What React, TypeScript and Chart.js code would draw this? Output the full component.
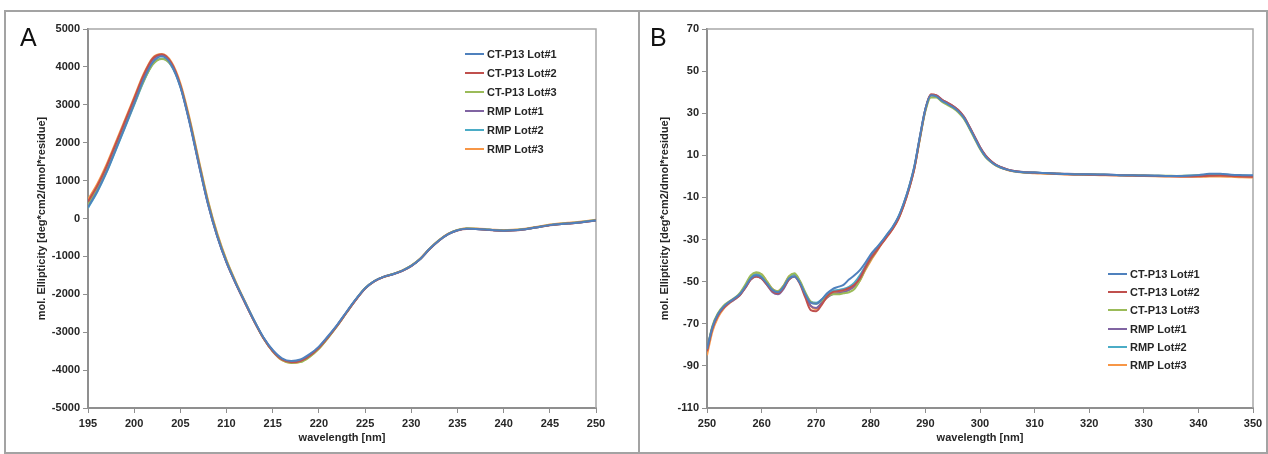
import { useEffect, useRef } from "react";
import { Chart, registerables } from "chart.js";

Chart.register(...registerables);

// ---- series metadata ----
const SERIES_NAMES = ["CT-P13 Lot#1", "CT-P13 Lot#2", "CT-P13 Lot#3", "RMP Lot#1", "RMP Lot#2", "RMP Lot#3"];
const SERIES_COLORS = ["#4F81BD", "#C0504D", "#9BBB59", "#8064A2", "#4BACC6", "#F79646"];

// ---- panel A: far-UV CD (195-250 nm) ----
const WAVELENGTH_A = [
  195, 196, 197, 198, 199, 200, 201, 202, 203, 204, 205, 206, 207, 208, 209, 210, 211, 212, 213,
  214, 215, 216, 217, 218, 219, 220, 221, 222, 223, 224, 225, 226, 227, 228, 229, 230, 231, 232,
  233, 234, 235, 236, 237, 238, 239, 240, 241, 242, 243, 244, 245, 246, 247, 248, 249, 250,
];
const A_CTP13_LOT1 = [
  300, 720, 1230, 1820, 2420, 3030, 3650, 4120, 4280, 4060, 3470, 2520, 1420, 370, -480, -1160, -1710,
  -2210, -2700, -3140, -3470, -3690, -3760, -3720, -3580, -3380, -3100, -2800, -2460, -2130, -1840,
  -1650, -1540, -1470, -1380, -1250, -1060, -800, -580, -410, -310, -270, -275, -290, -310, -320, -310,
  -290, -255, -215, -175, -150, -130, -110, -80, -50,
];
const A_CTP13_LOT2 = [
  450, 860, 1370, 1960, 2560, 3160, 3770, 4220, 4330, 4110, 3510, 2560, 1450, 390, -470, -1160, -1720,
  -2230, -2720, -3160, -3500, -3720, -3790, -3760, -3620, -3410, -3130, -2820, -2480, -2150, -1850,
  -1660, -1545, -1475, -1385, -1255, -1065, -805, -585, -415, -315, -275, -280, -295, -315, -325, -315,
  -295, -260, -220, -180, -155, -135, -115, -85, -55,
];
const A_CTP13_LOT3 = [
  360, 770, 1270, 1850, 2440, 3030, 3610, 4060, 4210, 4050, 3510, 2600, 1500, 440, -430, -1120, -1690,
  -2210, -2710, -3160, -3500, -3730, -3810, -3790, -3650, -3440, -3150, -2830, -2480, -2140, -1840,
  -1650, -1540, -1465, -1375, -1245, -1055, -795, -575, -405, -305, -265, -270, -285, -305, -315, -305,
  -285, -250, -210, -170, -145, -125, -105, -75, -45,
];
const A_RMP_LOT1 = [
  400, 820, 1330, 1920, 2520, 3120, 3730, 4190, 4320, 4100, 3500, 2550, 1440, 380, -475, -1160, -1715,
  -2220, -2710, -3150, -3490, -3710, -3780, -3745, -3600, -3395, -3115, -2810, -2470, -2140, -1845,
  -1655, -1540, -1470, -1380, -1250, -1060, -800, -580, -410, -310, -270, -275, -290, -310, -320, -310,
  -290, -255, -215, -175, -150, -130, -110, -80, -50,
];
const A_RMP_LOT2 = [
  280, 700, 1210, 1800, 2400, 3000, 3600, 4070, 4220, 4040, 3480, 2560, 1470, 410, -450, -1140, -1700,
  -2210, -2700, -3150, -3490, -3715, -3790, -3760, -3620, -3410, -3125, -2810, -2470, -2135, -1840,
  -1650, -1540, -1470, -1380, -1250, -1060, -800, -580, -410, -310, -270, -275, -290, -310, -320, -310,
  -290, -255, -215, -170, -145, -125, -105, -75, -45,
];
const A_RMP_LOT3 = [
  500, 910, 1420, 2010, 2600, 3200, 3800, 4240, 4340, 4140, 3570, 2640, 1540, 470, -400, -1100, -1670,
  -2190, -2700, -3160, -3510, -3740, -3810, -3780, -3640, -3430, -3140, -2830, -2480, -2140, -1840,
  -1650, -1540, -1465, -1375, -1245, -1050, -790, -570, -400, -300, -260, -265, -280, -300, -310, -300,
  -280, -245, -205, -160, -135, -115, -95, -65, -35,
];
const X_TICKS_A = [195, 200, 205, 210, 215, 220, 225, 230, 235, 240, 245, 250];
const Y_TICKS_A = [-5000, -4000, -3000, -2000, -1000, 0, 1000, 2000, 3000, 4000, 5000];

// ---- panel B: near-UV CD (250-350 nm) ----
const WAVELENGTH_B = [
  250, 251, 252, 253, 254, 255, 256, 257, 258, 259,
  260, 261, 262, 263, 264, 265, 266, 267, 268, 269,
  270, 271, 272, 273, 274, 275, 276, 277, 278, 279,
  280, 281, 282, 283, 284, 285, 286, 287, 288, 289,
  290, 291, 292, 293, 294, 295, 296, 297, 298, 299,
  300, 301, 302, 303, 304, 305, 306,
  308, 310, 312, 314, 316, 318, 320, 322, 324, 326, 328, 330, 332, 334, 336, 338, 340, 342, 344, 346, 348, 350,
];
const B_CTP13_LOT1 = [
  -82, -71.5, -65.5, -62, -59.8, -58, -56, -52.5, -48.5, -47,
  -48, -51, -54, -55, -52.5, -48.5, -47.5, -50.5, -56, -60,
  -60.5, -58.5, -55.5, -53.5, -52.5, -51.5, -49, -47, -44.5, -41,
  -37, -34, -31, -27.5, -24, -19.5, -13, -5, 5, 19,
  32, 38.5, 38, 36, 34.5, 33, 31, 28, 23.5, 18.5,
  13.5, 9.5, 7, 5.2, 4, 3.2, 2.6,
  2, 1.8, 1.6, 1.3, 1.1, 1, 1, 0.9, 0.8, 0.6, 0.5, 0.4, 0.3, 0.2, 0.2, 0.3, 0.6, 1.2, 1.3, 0.8, 0.6, 0.5,
];
const B_CTP13_LOT2 = [
  -83, -72, -66, -62.5, -60, -58.2, -56.3, -53, -49, -47.5,
  -48.5, -51.5, -54.5, -55.5, -53, -49, -47.5, -51, -57.5, -63.5,
  -64, -61, -57, -55, -54.5, -54, -53, -51.5, -48.5, -43.5,
  -39, -35.5, -32, -28.5, -25, -20.5, -14, -6, 4, 18.5,
  32, 39, 38.5, 36.5, 35, 33.5, 31.5, 28.5, 24, 19,
  14, 10, 7.3, 5.4, 4.2, 3.3, 2.7,
  2, 1.7, 1.5, 1.2, 1, 0.9, 0.8, 0.7, 0.6, 0.5, 0.4, 0.3, 0.2, 0.1, 0, 0, 0.1, 0.3, 0.4, 0.2, 0, -0.2,
];
const B_CTP13_LOT3 = [
  -82.5, -71, -65, -61.5, -59.5, -57.8, -55.5, -51.5, -47, -45.5,
  -46.5, -50, -53.5, -54.5, -52, -47.5, -46, -49.5, -55, -59.5,
  -60.5, -59, -57, -56, -56, -55.5, -55, -53.5, -49.5, -44,
  -39.5, -35.5, -31.5, -28, -24.5, -20, -13.5, -5.5, 4.5, 18,
  31, 37.5, 37.5, 35.5, 34, 32.5, 30.5, 27.5, 23, 18,
  13, 9.2, 6.8, 5, 3.9, 3.1, 2.5,
  1.9, 1.7, 1.5, 1.3, 1.1, 1, 0.9, 0.8, 0.7, 0.6, 0.5, 0.4, 0.3, 0.3, 0.2, 0.3, 0.4, 0.6, 0.7, 0.5, 0.3, 0.2,
];
const B_RMP_LOT1 = [
  -82.5, -72, -66, -62.5, -60.2, -58.5, -56.5, -53, -49, -47.5,
  -48.5, -51.5, -55, -56, -53.5, -49, -47.5, -50.5, -56.5, -61.5,
  -62.5, -60, -57.5, -56, -55.5, -55, -54, -52, -48, -43,
  -38.5, -35, -31.5, -28, -24.5, -20, -13.5, -5.5, 4.5, 18.5,
  31.5, 38.5, 38.5, 36.5, 35, 33.5, 31.5, 28.5, 24, 19,
  14, 10, 7.3, 5.4, 4.2, 3.3, 2.7,
  2.1, 1.8, 1.6, 1.4, 1.2, 1.1, 1, 0.9, 0.8, 0.6, 0.5, 0.4, 0.3, 0.2, 0.2, 0.2, 0.4, 0.7, 0.8, 0.5, 0.3, 0.2,
];
const B_RMP_LOT2 = [
  -82, -71.5, -65.5, -62, -59.8, -58, -55.8, -52, -48, -46.5,
  -47.5, -50.5, -54, -55, -52.5, -48, -46.5, -50, -55.5, -59.5,
  -60, -58.5, -56, -54.5, -54, -53.5, -52.5, -50.5, -47, -42.5,
  -38, -34.5, -31, -27.5, -24, -19.5, -13, -5, 5, 19,
  32, 38.5, 38, 36, 34.5, 33, 31, 28, 23.5, 18.5,
  13.5, 9.6, 7.1, 5.3, 4.1, 3.2, 2.6,
  2, 1.8, 1.6, 1.3, 1.1, 1, 0.9, 0.8, 0.7, 0.6, 0.5, 0.4, 0.3, 0.2, 0.2, 0.3, 0.5, 0.8, 0.9, 0.6, 0.4, 0.3,
];
const B_RMP_LOT3 = [
  -85, -73.5, -67, -63, -60.5, -58.5, -56.5, -52.5, -48, -46,
  -46.5, -50, -53.5, -54.5, -52, -47.5, -46.5, -50, -56, -61.5,
  -63, -60.5, -57.5, -55.5, -55, -54.5, -53.5, -52.5, -49.5, -44.5,
  -40, -36, -32, -28.5, -25, -20.5, -14, -6, 4, 18,
  31.5, 38.5, 38, 36, 34.5, 33, 31, 28, 23.5, 18.5,
  13.5, 9.5, 7, 5.1, 3.9, 3, 2.4,
  1.8, 1.5, 1.3, 1.1, 0.9, 0.8, 0.7, 0.6, 0.5, 0.4, 0.3, 0.2, 0.1, 0, -0.1, -0.2, -0.2, -0.1, 0, -0.2, -0.4, -0.5,
];
const X_TICKS_B = [250, 260, 270, 280, 290, 300, 310, 320, 330, 340, 350];
const Y_TICKS_B = [-110, -90, -70, -50, -30, -10, 10, 30, 50, 70];

const X_TITLE = "wavelength [nm]";
const Y_TITLE = "mol. Ellipticity [deg*cm2/dmol*residue]";

const FONT = '"Liberation Sans", Arial, Helvetica, sans-serif';
const TEXT_COLOR = "#262626";
const AXIS_GRAY = "#8f8f8f";
const FRAME_GRAY = "#a8a8a8";

// light frame on the top and right edges of the plot area
const plotFrame = {
  id: "plotFrame",
  beforeDatasetsDraw(chart: any) {
    const { ctx, chartArea } = chart;
    ctx.save();
    ctx.strokeStyle = FRAME_GRAY;
    ctx.lineWidth = 1.5;
    ctx.beginPath();
    ctx.moveTo(chartArea.left, chartArea.top);
    ctx.lineTo(chartArea.right, chartArea.top);
    ctx.lineTo(chartArea.right, chartArea.bottom);
    ctx.stroke();
    ctx.restore();
  },
};

function axis(tickValues: number[], title: string, horizontal: boolean, size: number) {
  return {
    type: "linear",
    min: tickValues[0],
    max: tickValues[tickValues.length - 1],
    afterBuildTicks: (s: any) => {
      s.ticks = tickValues.map((v) => ({ value: v }));
    },
    afterFit: (s: any) => {
      if (horizontal) s.height = size;
      else s.width = size;
    },
    ticks: {
      autoSkip: false,
      maxRotation: 0,
      padding: horizontal ? 4 : 3,
      color: TEXT_COLOR,
      font: { family: FONT, size: 11, weight: "bold" },
      callback: (v: number) => String(v),
    },
    grid: {
      display: true,
      drawOnChartArea: false,
      drawTicks: true,
      tickLength: 5,
      color: AXIS_GRAY,
      lineWidth: 1,
    },
    border: { display: true, color: AXIS_GRAY, width: 2 },
    title: {
      display: true,
      text: title,
      color: TEXT_COLOR,
      font: { family: FONT, size: 11, weight: "bold" },
      padding: horizontal ? { top: 0, bottom: 3 } : { top: 0, bottom: 0 },
    },
  };
}

function buildChart(
  canvas: HTMLCanvasElement,
  wavelengths: number[],
  series: number[][],
  xTicks: number[],
  yTicks: number[],
  padLeft: number,
  yWidth: number,
  padRight: number
) {
  return new Chart(canvas, {
    type: "line",
    data: {
      datasets: series.map((values, i) => ({
        label: SERIES_NAMES[i],
        data: wavelengths.map((w, j) => ({ x: w, y: values[j] })),
        borderColor: SERIES_COLORS[i],
        backgroundColor: SERIES_COLORS[i],
        borderWidth: 2,
        pointRadius: 0,
        cubicInterpolationMode: "monotone",
        fill: false,
      })),
    },
    options: {
      responsive: false,
      maintainAspectRatio: false,
      animation: false,
      layout: { padding: { left: padLeft, right: padRight, top: 29, bottom: 6 } },
      plugins: { legend: { display: false }, tooltip: { enabled: false } },
      scales: {
        x: axis(xTicks, X_TITLE, true, 40),
        y: axis(yTicks, Y_TITLE, false, yWidth),
      },
    } as any,
    plugins: [plotFrame],
  });
}

function Legend({ left, top, gap }: { left: number; top: number; gap: number }) {
  return (
    <>
      {SERIES_NAMES.map((name, i) => (
        <div
          key={name}
          style={{
            position: "absolute",
            left,
            top: top + i * gap - 7,
            height: 14,
            display: "flex",
            alignItems: "center",
            font: `bold 11px ${FONT}`,
            color: TEXT_COLOR,
            whiteSpace: "nowrap",
          }}
        >
          <span style={{ display: "inline-block", width: 19, height: 2, background: SERIES_COLORS[i], marginRight: 3 }} />
          {name}
        </div>
      ))}
    </>
  );
}

export default function App() {
  const refA = useRef<HTMLCanvasElement>(null);
  const refB = useRef<HTMLCanvasElement>(null);

  useEffect(() => {
    const chartA = buildChart(
      refA.current!,
      WAVELENGTH_A,
      [A_CTP13_LOT1, A_CTP13_LOT2, A_CTP13_LOT3, A_RMP_LOT1, A_RMP_LOT2, A_RMP_LOT3],
      X_TICKS_A,
      Y_TICKS_A,
      35,
      53,
      43
    );
    const chartB = buildChart(
      refB.current!,
      WAVELENGTH_B,
      [B_CTP13_LOT1, B_CTP13_LOT2, B_CTP13_LOT3, B_RMP_LOT1, B_RMP_LOT2, B_RMP_LOT3],
      X_TICKS_B,
      Y_TICKS_B,
      19,
      49,
      15
    );
    return () => {
      chartA.destroy();
      chartB.destroy();
    };
  }, []);

  const letter = { position: "absolute" as const, top: 25, font: `25px/25px ${FONT}`, color: "#111" };

  return (
    <div style={{ position: "absolute", left: 0, top: 0, width: 1268, height: 454, background: "#fff", overflow: "hidden" }}>
      <canvas ref={refA} width={639} height={454} style={{ position: "absolute", left: 0, top: 0 }} />
      <canvas ref={refB} width={629} height={454} style={{ position: "absolute", left: 639, top: 0 }} />
      {/* figure frame and panel divider */}
      <div style={{ position: "absolute", left: 4, top: 10, width: 1260, height: 440, border: "2px solid #a3a3a3", pointerEvents: "none" }} />
      <div style={{ position: "absolute", left: 638, top: 10, width: 2, height: 444, background: "#a3a3a3" }} />
      <div style={{ ...letter, left: 20 }}>A</div>
      <div style={{ ...letter, left: 650 }}>B</div>
      <Legend left={465} top={54} gap={19} />
      <Legend left={1108} top={274} gap={18.2} />
    </div>
  );
}
